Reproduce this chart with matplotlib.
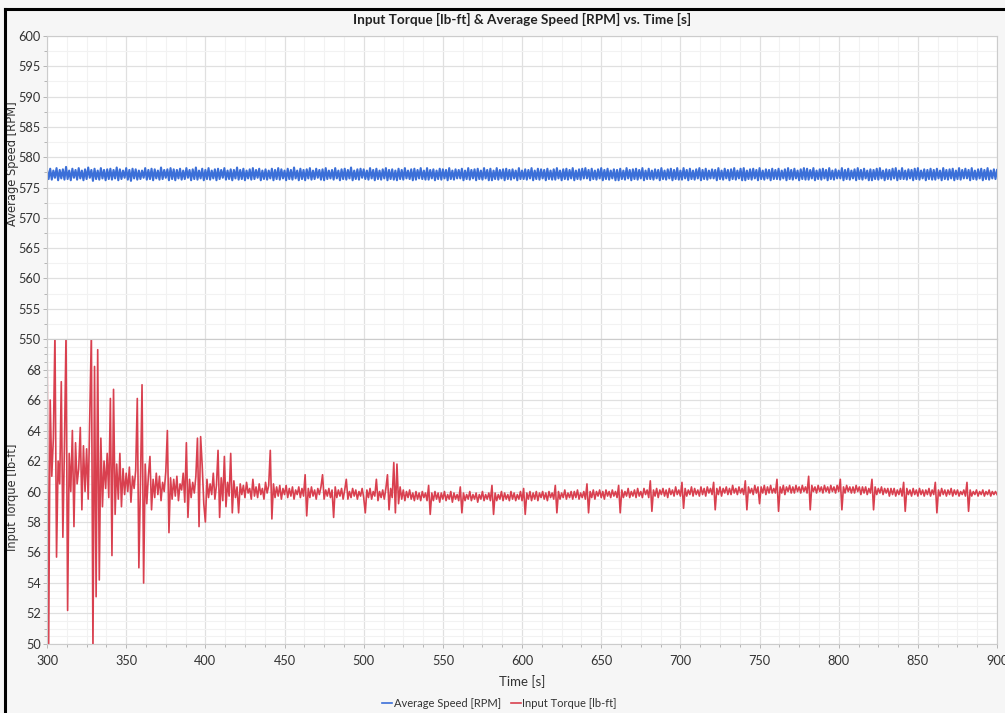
import matplotlib.pyplot as plt
import numpy as np
from matplotlib.lines import Line2D
from matplotlib.ticker import MultipleLocator

# sample times, one per second
time_s = np.arange(300, 901)

# Input Torque [lb-ft], one row per 20 s
torque = [
    70.4, 49.6, 66.0, 61.0, 63.5, 70.4, 55.7, 62.0, 60.5, 67.2, 57.0, 63.0, 70.4, 52.2, 62.5, 60.0, 64.0, 57.7, 63.2, 60.5,
    61.5, 64.2, 58.8, 63.0, 60.0, 62.8, 59.5, 65.0, 70.4, 49.6, 68.2, 53.1, 69.3, 54.2, 63.5, 59.0, 62.0, 60.2, 62.5, 59.6,
    66.1, 55.8, 66.7, 58.5, 61.8, 59.5, 62.5, 59.0, 61.5, 59.8, 61.2, 60.0, 61.6, 59.3, 61.0, 60.2, 61.4, 66.1, 55.0, 60.5,
    67.0, 54.0, 61.8, 59.2, 61.0, 62.3, 58.8, 60.8, 59.6, 61.2, 59.8, 61.0, 59.4, 60.6, 60.0, 61.3, 64.0, 57.3, 60.9, 59.5,
    60.8, 59.7, 61.0, 59.4, 60.5, 60.1, 61.2, 59.3, 63.2, 58.3, 60.8, 59.6, 60.6, 59.9, 61.0, 63.5, 57.7, 63.6, 61.7, 59.2,
    58.0, 60.8, 59.6, 60.5, 59.8, 61.2, 59.5, 60.4, 62.7, 58.3, 60.9, 59.4, 62.3, 59.0, 60.6, 59.7, 62.5, 58.6, 60.7, 59.6,
    60.3, 58.6, 60.5, 59.8, 60.4, 59.6, 60.6, 59.9, 60.2, 59.5, 60.8, 59.7, 60.3, 59.6, 60.5, 59.8, 60.2, 59.5, 60.6, 59.9,
    60.4, 62.7, 58.2, 60.5, 59.6, 60.3, 59.7, 60.4, 59.5, 60.2, 59.8, 60.4, 59.6, 60.2, 59.7, 60.3, 59.5, 60.1, 59.8, 60.3,
    59.6, 60.2, 59.7, 61.1, 58.4, 60.2, 59.6, 60.3, 59.7, 60.1, 59.5, 60.2, 59.8, 60.3, 61.1, 59.5, 60.1, 59.7, 60.2, 59.6,
    60.1, 58.3, 60.3, 59.6, 60.1, 59.7, 60.2, 59.5, 60.1, 60.8, 59.5, 60.0, 59.6, 60.2, 59.7, 60.1, 59.5, 60.0, 59.7, 60.2,
    59.6, 58.6, 60.1, 59.6, 60.2, 59.5, 60.0, 59.7, 60.8, 59.4, 60.0, 59.6, 60.1, 59.5, 60.2, 61.1, 58.8, 60.2, 59.6, 61.9,
    58.6, 61.8, 59.2, 60.3, 59.5, 60.1, 59.4, 60.0, 59.6, 60.1, 59.5, 59.9, 59.4, 60.0, 59.5, 59.9, 59.4, 60.0, 59.6, 59.9,
    59.4, 60.4, 58.5, 59.9, 59.4, 60.0, 59.5, 59.9, 59.3, 59.9, 59.5, 60.0, 59.4, 59.8, 59.5, 60.0, 59.3, 59.9, 59.5, 59.8,
    59.4, 60.3, 58.6, 59.9, 59.4, 59.8, 59.5, 60.0, 59.4, 59.8, 59.5, 59.9, 59.3, 59.8, 59.5, 60.0, 59.4, 59.8, 59.5, 59.9,
    59.4, 60.4, 58.5, 59.9, 59.4, 59.8, 59.5, 60.0, 59.4, 59.9, 59.5, 59.8, 59.4, 60.0, 59.5, 59.9, 59.4, 59.8, 59.5, 60.0,
    59.4, 60.2, 58.5, 59.9, 59.5, 60.0, 59.4, 59.9, 59.5, 60.0, 59.4, 59.9, 59.6, 60.0, 59.5, 59.9, 59.4, 60.0, 59.6, 59.9,
    59.5, 60.4, 58.6, 60.0, 59.5, 59.9, 59.6, 60.1, 59.5, 59.9, 59.6, 60.0, 59.5, 60.0, 59.6, 60.1, 59.5, 59.9, 59.6, 60.0,
    59.5, 60.5, 58.6, 60.0, 59.6, 60.1, 59.5, 60.0, 59.7, 60.1, 59.6, 60.0, 59.5, 60.1, 59.7, 60.0, 59.6, 60.1, 59.7, 60.0,
    59.6, 60.4, 58.6, 60.1, 59.6, 60.0, 59.7, 60.2, 59.6, 60.0, 59.7, 60.1, 59.6, 60.2, 59.7, 60.0, 59.6, 60.2, 59.8, 60.1,
    59.6, 60.7, 58.7, 60.1, 59.7, 60.2, 59.6, 60.1, 59.8, 60.2, 59.7, 60.1, 59.6, 60.2, 59.8, 60.1, 59.7, 60.3, 59.8, 60.1,
    59.7, 60.6, 58.9, 60.2, 59.7, 60.1, 59.8, 60.3, 59.7, 60.2, 59.8, 60.1, 59.7, 60.3, 59.8, 60.2, 59.7, 60.3, 59.9, 60.2,
    59.8, 60.6, 58.8, 60.2, 59.8, 60.3, 59.7, 60.2, 59.9, 60.3, 59.8, 60.2, 59.8, 60.4, 59.9, 60.2, 59.8, 60.3, 59.9, 60.2,
    59.8, 60.7, 58.8, 60.3, 59.9, 60.2, 59.8, 60.4, 59.9, 60.3, 59.2, 60.3, 59.9, 60.4, 59.8, 60.3, 59.9, 60.4, 59.9, 60.2,
    59.9, 60.8, 58.7, 60.3, 59.9, 60.4, 59.8, 60.3, 60.0, 60.4, 59.9, 60.3, 59.9, 60.4, 60.0, 60.3, 59.9, 60.4, 60.0, 60.3,
    59.9, 61.0, 58.8, 60.4, 60.0, 60.3, 59.9, 60.4, 60.0, 60.3, 59.9, 60.4, 60.0, 60.3, 59.9, 60.4, 60.0, 60.3, 59.9, 60.4,
    60.0, 60.8, 58.8, 60.3, 59.9, 60.4, 60.0, 60.3, 59.9, 60.3, 59.9, 60.4, 60.0, 60.3, 59.8, 60.3, 59.9, 60.3, 59.8, 60.2,
    59.9, 60.8, 58.8, 60.3, 59.8, 60.2, 59.9, 60.3, 59.8, 60.2, 59.9, 60.2, 59.7, 60.2, 59.8, 60.2, 59.7, 60.1, 59.8, 60.2,
    59.7, 60.6, 58.7, 60.2, 59.8, 60.1, 59.7, 60.2, 59.8, 60.1, 59.7, 60.2, 59.8, 60.1, 59.7, 60.1, 59.8, 60.2, 59.7, 60.1,
    59.8, 60.6, 58.6, 60.1, 59.7, 60.2, 59.8, 60.1, 59.7, 60.1, 59.8, 60.2, 59.7, 60.1, 59.8, 60.1, 59.7, 60.0, 59.8, 60.1,
    59.7, 60.6, 58.7, 60.1, 59.7, 60.0, 59.8, 60.1, 59.7, 60.0, 59.8, 60.1, 59.7, 60.0, 59.8, 60.1, 59.7, 60.0, 59.8, 60.0,
    59.8,
]

# Average Speed [RPM], one row per 20 s
speed = [
    577.9, 576.4, 578.1, 576.3, 577.8, 576.6, 578.2, 576.2, 577.9, 576.5, 578.0, 576.3, 578.4, 576.4, 577.8, 576.2, 578.1, 576.6, 577.9, 576.3,
    578.2, 576.5, 577.8, 576.2, 578.0, 576.4, 578.3, 576.6, 577.9, 576.1, 578.1, 576.4, 577.8, 576.3, 578.2, 576.5, 577.9, 576.2, 578.0, 576.4,
    578.1, 576.3, 577.9, 576.5, 578.3, 576.2, 578.0, 576.4, 577.8, 576.6, 578.2, 576.3, 577.9, 576.1, 578.1, 576.5, 578.0, 576.3, 577.8, 576.4,
    577.8, 576.6, 578.2, 576.3, 577.9, 576.4, 578.1, 576.2, 578.0, 576.5, 577.8, 576.3, 578.3, 576.4, 577.9, 576.6, 578.0, 576.2, 578.2, 576.4,
    578.0, 576.2, 577.9, 576.5, 578.1, 576.3, 577.8, 576.4, 578.2, 576.6, 577.9, 576.2, 578.0, 576.4, 578.3, 576.3, 577.8, 576.5, 578.1, 576.2,
    577.9, 576.4, 578.2, 576.3, 577.8, 576.5, 578.0, 576.2, 578.1, 576.4, 577.9, 576.6, 578.2, 576.3, 577.8, 576.4, 578.0, 576.2, 577.9, 576.5,
    578.3, 576.3, 577.9, 576.4, 578.1, 576.2, 577.8, 576.5, 578.0, 576.3, 578.2, 576.4, 577.9, 576.6, 578.1, 576.2, 577.8, 576.4, 578.0, 576.3,
    577.8, 576.5, 578.1, 576.2, 577.9, 576.4, 578.2, 576.3, 578.0, 576.5, 577.8, 576.2, 578.1, 576.4, 577.9, 576.3, 578.3, 576.5, 577.8, 576.2,
    578.1, 576.4, 577.9, 576.2, 578.0, 576.5, 578.2, 576.3, 577.8, 576.4, 578.1, 576.6, 577.9, 576.3, 578.0, 576.2, 578.2, 576.4, 577.8, 576.5,
    577.9, 576.3, 578.2, 576.5, 577.8, 576.2, 578.0, 576.4, 578.1, 576.3, 577.9, 576.5, 578.3, 576.2, 577.8, 576.4, 578.0, 576.3, 578.1, 576.6,
    578.0, 576.4, 577.8, 576.3, 578.2, 576.5, 577.9, 576.2, 578.1, 576.4, 577.8, 576.3, 578.0, 576.5, 578.2, 576.2, 577.9, 576.4, 578.0, 576.3,
    577.8, 576.2, 578.1, 576.4, 577.9, 576.3, 578.2, 576.5, 577.8, 576.4, 578.0, 576.2, 578.1, 576.3, 577.9, 576.5, 578.2, 576.4, 577.8, 576.3,
    578.2, 576.3, 577.9, 576.5, 578.0, 576.2, 577.8, 576.4, 578.1, 576.3, 578.0, 576.5, 577.9, 576.2, 578.2, 576.4, 577.8, 576.3, 578.0, 576.5,
    577.9, 576.5, 578.1, 576.2, 577.8, 576.4, 578.2, 576.3, 577.9, 576.5, 578.0, 576.2, 578.1, 576.4, 577.8, 576.3, 578.2, 576.5, 577.9, 576.2,
    578.1, 576.2, 577.8, 576.4, 578.2, 576.3, 577.9, 576.5, 578.0, 576.2, 578.1, 576.4, 577.9, 576.3, 578.0, 576.5, 577.8, 576.2, 578.2, 576.4,
    577.8, 576.4, 578.0, 576.3, 577.9, 576.5, 578.2, 576.2, 577.8, 576.4, 578.1, 576.3, 578.0, 576.5, 577.9, 576.2, 578.1, 576.4, 577.8, 576.3,
    578.0, 576.3, 578.2, 576.5, 577.8, 576.2, 578.0, 576.4, 578.1, 576.3, 577.9, 576.5, 578.2, 576.2, 577.8, 576.4, 578.0, 576.3, 578.1, 576.5,
    578.2, 576.5, 577.9, 576.2, 578.1, 576.4, 577.8, 576.3, 578.0, 576.5, 578.2, 576.2, 577.9, 576.4, 578.1, 576.3, 577.8, 576.5, 578.0, 576.2,
    577.9, 576.2, 578.1, 576.4, 577.8, 576.3, 578.2, 576.5, 577.9, 576.2, 578.0, 576.4, 578.1, 576.3, 577.9, 576.5, 578.2, 576.2, 577.8, 576.4,
    578.1, 576.4, 577.8, 576.3, 578.0, 576.5, 577.9, 576.2, 578.2, 576.4, 577.8, 576.3, 578.0, 576.5, 578.1, 576.2, 577.9, 576.4, 578.2, 576.3,
    577.8, 576.3, 578.2, 576.5, 577.9, 576.2, 578.1, 576.4, 577.8, 576.3, 578.0, 576.5, 578.2, 576.2, 577.9, 576.4, 578.1, 576.3, 577.8, 576.5,
    578.0, 576.5, 577.9, 576.2, 578.2, 576.4, 577.8, 576.3, 578.1, 576.5, 577.9, 576.2, 578.0, 576.4, 578.2, 576.3, 577.8, 576.5, 578.1, 576.2,
    578.2, 576.2, 577.8, 576.4, 578.0, 576.3, 578.1, 576.5, 577.9, 576.2, 578.2, 576.4, 577.8, 576.3, 578.0, 576.5, 577.9, 576.2, 578.1, 576.4,
    577.9, 576.4, 578.1, 576.3, 577.8, 576.5, 578.0, 576.2, 578.2, 576.4, 577.9, 576.3, 578.1, 576.5, 577.8, 576.2, 578.0, 576.4, 578.2, 576.3,
    578.1, 576.3, 577.9, 576.5, 578.2, 576.2, 577.8, 576.4, 578.0, 576.3, 578.1, 576.5, 577.9, 576.2, 578.2, 576.4, 577.8, 576.3, 578.0, 576.5,
    577.8, 576.5, 578.2, 576.2, 577.9, 576.4, 578.1, 576.3, 577.8, 576.5, 578.0, 576.2, 578.2, 576.4, 577.9, 576.3, 578.1, 576.5, 577.8, 576.2,
    578.0, 576.2, 577.9, 576.4, 578.1, 576.3, 578.2, 576.5, 577.8, 576.2, 578.0, 576.4, 577.9, 576.3, 578.1, 576.5, 578.2, 576.2, 577.8, 576.4,
    578.2, 576.4, 577.8, 576.3, 578.0, 576.5, 577.9, 576.2, 578.1, 576.4, 578.2, 576.3, 577.8, 576.5, 578.0, 576.2, 577.9, 576.4, 578.1, 576.3,
    577.9, 576.3, 578.1, 576.5, 577.8, 576.2, 578.2, 576.4, 577.9, 576.3, 578.0, 576.5, 578.1, 576.2, 577.8, 576.4, 578.2, 576.3, 577.9, 576.5,
    578.1, 576.5, 577.9, 576.2, 578.2, 576.4, 577.8, 576.3, 578.0, 576.5, 578.1, 576.2, 577.9, 576.4, 578.2, 576.3, 577.8, 576.5, 578.0, 576.4,
    577.9,
]

speed_color = '#3b6fd8'
torque_color = '#d9404f'
bg = '#f6f6f6'
grid_major = '#e0e0e0'
grid_minor = '#f2f2f2'
text_color = '#333333'

plt.rcParams['font.family'] = ['Lato', 'DejaVu Sans']

fig = plt.figure(figsize=(10.05, 7.13), dpi=100, facecolor=bg)
ax1 = fig.add_axes([0.0468, 0.5245, 0.9453, 0.4250])
ax2 = fig.add_axes([0.0468, 0.0968, 0.9453, 0.4277], sharex=ax1)

for ax in (ax1, ax2):
    ax.set_facecolor('white')
    ax.xaxis.set_major_locator(MultipleLocator(50))
    ax.xaxis.set_minor_locator(MultipleLocator(12.5))
    ax.grid(True, which='major', color=grid_major, linewidth=0.9)
    ax.grid(True, which='minor', color=grid_minor, linewidth=0.8)
    ax.set_axisbelow(True)
    for s in ax.spines.values():
        s.set_color('#cccccc')
        s.set_linewidth(0.8)
    ax.tick_params(which='both', colors='#b5b5b5', labelcolor=text_color,
                   labelsize=9.2, length=3, width=0.7, pad=1.5)
    ax.tick_params(which='minor', length=2)

ax1.plot(time_s, speed, color=speed_color, linewidth=1.5, label='Average Speed [RPM]')
ax1.set_ylim(550, 600)
ax1.yaxis.set_major_locator(MultipleLocator(5))
ax1.yaxis.set_minor_locator(MultipleLocator(2.5))
ax1.tick_params(axis='x', which='both', labelbottom=False, length=0)

ax2.plot(time_s, torque, color=torque_color, linewidth=1.2, label='Input Torque [lb-ft]')
ax2.set_ylim(50, 70)
ax2.set_yticks([50, 52, 54, 56, 58, 60, 62, 64, 66, 68])
ax2.yaxis.set_minor_locator(MultipleLocator(0.5))
ax2.set_xlim(300, 900)
ax2.tick_params(axis='x', pad=5)

ax1.set_ylabel('Average Speed [RPM]', family='DejaVu Sans', fontsize=8.3, color=text_color)
ax1.yaxis.set_label_coords(-0.029, 0.58)
ax2.set_ylabel('Input Torque [lb-ft]', family='DejaVu Sans', fontsize=8.3, color=text_color)
ax2.yaxis.set_label_coords(-0.029, 0.48)
ax2.set_xlabel('Time [s]', fontsize=9.5, color=text_color, labelpad=6)

fig.text(0.519, 0.973, 'Input Torque [lb-ft] & Average Speed [RPM] vs. Time [s]',
         ha='center', va='center', fontsize=9.8, fontweight='bold', color='#222222')

handles = [Line2D([], [], color=speed_color, linewidth=1.2),
           Line2D([], [], color=torque_color, linewidth=1.2)]
fig.legend(handles, ['Average Speed [RPM]', 'Input Torque [lb-ft]'],
           loc='center', bbox_to_anchor=(0.497, 0.014), ncol=2, frameon=False,
           fontsize=8.0, handlelength=0.9, handletextpad=0.15, columnspacing=0.9,
           labelcolor=text_color)

# black screenshot border on the left and top
fig.add_artist(Line2D([0.005, 0.005], [0, 0.988], transform=fig.transFigure,
                      color='black', linewidth=2.2))
fig.add_artist(Line2D([0.005, 1], [0.988, 0.988], transform=fig.transFigure,
                      color='black', linewidth=2.2))

fig.savefig('out.png', dpi=100, facecolor=bg)
